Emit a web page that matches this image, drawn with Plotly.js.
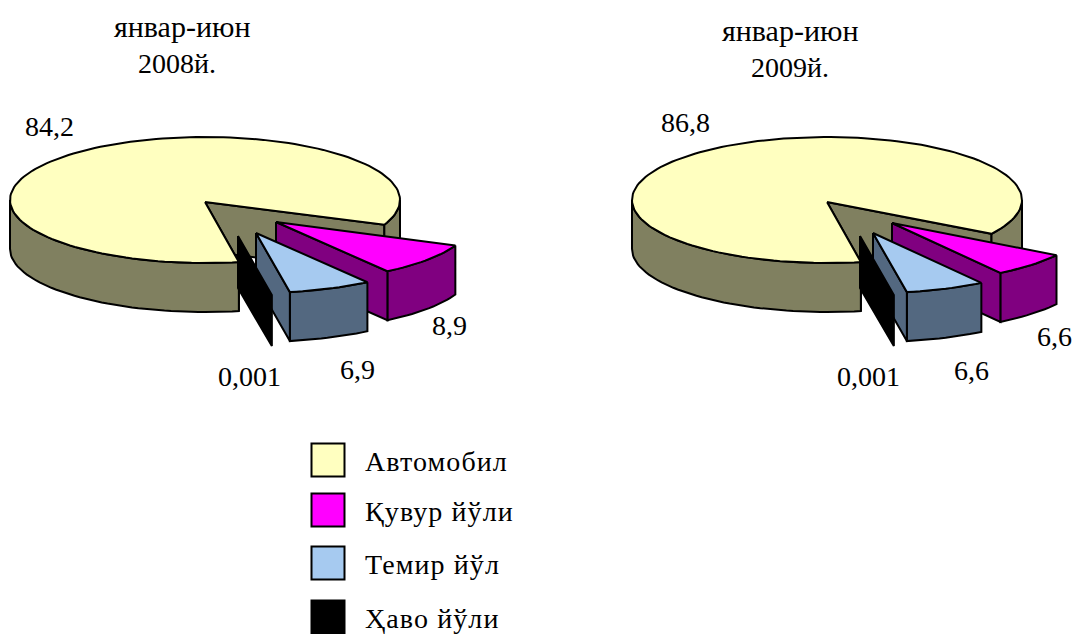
<!DOCTYPE html>
<html><head><meta charset="utf-8">
<script src="https://cdn.plot.ly/plotly-3.0.1.min.js"></script>
<style>html,body{margin:0;padding:0;background:#fff}#c{width:1075px;height:634px}
.textpoint text{letter-spacing:1.1px}</style></head>
<body><div id="c"></div>
<script>
const categories = ['Автомобил','Қувур йўли','Темир йўл','Ҳаво йўли'];
const values2008 = [84.2, 8.9, 6.9, 0.001];
const values2009 = [86.8, 6.6, 6.6, 0.001];
const labels2008 = ['84,2','8,9','6,9','0,001'];
const labels2009 = ['86,8','6,6','6,6','0,001'];
const periodTitle = 'январ-июн';
const yearTitles = ['2008й.','2009й.'];

const topColors = ['#FFFFC0','#FF00FF','#A6CAF0','#000000'];
const sideColors = ['#808060','#800080','#536880','#000000'];
const F = '"Liberation Serif","Times New Roman",serif';
const START = 80, D = 49, RX = 195, RY = 63, RYX = 60;
const traces = [];
const rad = a => a*Math.PI/180;
function arc(cx,cy,rx,ry,a0,a1,dy){
  const p=[]; const n=Math.max(2,Math.ceil(Math.abs(a1-a0)/2));
  for(let i=0;i<=n;i++){const a=rad(a0+(a1-a0)*i/n);p.push([cx+rx*Math.cos(a),cy+ry*Math.sin(a)+(dy||0)]);}
  return p;
}
function poly(pts,color){
  const x=pts.map(p=>p[0]),y=pts.map(p=>p[1]);
  x.push(x[0]);y.push(y[0]);
  traces.push({type:'scatter',mode:'lines',x,y,fill:'toself',fillcolor:color,
    line:{color:'#000',width:2},hoverinfo:'skip',showlegend:false});
}
function pie3d(cx,values,offsets){
  const cy=200, tip=[cx,202];
  const angs=[START]; values.forEach(v=>angs.push(angs[angs.length-1]+v*3.6));
  // large slice: cut faces first, then the outer wall in front of them
  const a0=angs[0],a1=angs[1];
  const pe1=arc(cx,cy,RX,RY,a1,a1)[0], pe0=arc(cx,cy,RX,RY,a0,a0)[0];
  poly([tip,pe1,[pe1[0],pe1[1]+D],[tip[0],tip[1]+D]],sideColors[0]);
  poly([tip,pe0,[pe0[0],pe0[1]+D],[tip[0],tip[1]+D]],sideColors[0]);
  poly(arc(cx,cy,RX,RY,a0,180).concat(arc(cx,cy,RX,RY,180,a0,D)),sideColors[0]);
  poly(arc(cx,cy,RX,RY,360,a1,0).concat(arc(cx,cy,RX,RY,a1,360,D)),sideColors[0]);
  poly([tip].concat(arc(cx,cy,RX,RY,a0,a1)),topColors[0]);
  // exploded slices
  for(let i=1;i<values.length;i++){
    const b0=angs[i]%360,b1=angs[i+1]%360, o=offsets[i-1];
    const tx=cx+o[0], ty=202+o[1];
    const c=[tx,ty];
    if(values[i]<0.1){
      const e=arc(tx,ty,RX*o[2],RYX*o[2],b1,b1)[0];
      poly([c,e,[e[0],e[1]+D+2],[tx,ty+D+3]],topColors[i]);
      continue;
    }
    poly(arc(tx,ty,RX,RYX,b0,b1).concat(arc(tx,ty,RX,RYX,b1,b0,D)),sideColors[i]);
    const e=arc(tx,ty,RX,RYX,b1,b1)[0];
    poly([c,e,[e[0],e[1]+D],[tx,ty+D]],sideColors[i]);
    poly([c].concat(arc(tx,ty,RX,RYX,b0,b1)),topColors[i]);
  }
}
pie3d(205,values2008,[[71,20],[51,31],[33,34,1]]);
pie3d(827,values2009,[[65,21],[46,31],[33,34,1]]);

// legend
const legY=[460,510,563,617];
traces.push({type:'scatter',mode:'markers',x:categories.map(()=>328),y:legY,
  marker:{symbol:'square',size:33,color:topColors,line:{color:'#000',width:2}},hoverinfo:'skip',showlegend:false});
traces.push({type:'scatter',mode:'text',x:categories.map(()=>365),y:legY.map(v=>v+4),text:categories,
  textposition:'middle right',textfont:{family:F,size:28,color:'#000'},hoverinfo:'skip',showlegend:false});

const ann=(x,y,t,s)=>({x,y,text:t,showarrow:false,xref:'x',yref:'y',xanchor:'center',yanchor:'middle',font:{family:F,size:s||28,color:'#000'}});
const annotations=[
  ann(181.5,26,periodTitle,30),ann(176.5,63,yearTitles[0]),
  ann(790,30,periodTitle,30),ann(790,67,yearTitles[1]),
  ann(49,126,labels2008[0]),ann(449,325,labels2008[1]),ann(357,369,labels2008[2]),ann(249,376,labels2008[3]),
  ann(685,122,labels2009[0]),ann(1054,336,labels2009[1]),ann(971,370,labels2009[2]),ann(868,376,labels2009[3])
];
Plotly.newPlot('c',traces,{
  width:1075,height:634,margin:{l:0,r:0,t:0,b:0},paper_bgcolor:'#fff',plot_bgcolor:'#fff',
  xaxis:{range:[0,1075],visible:false,fixedrange:true},
  yaxis:{range:[634,0],visible:false,fixedrange:true},
  annotations,showlegend:false
},{staticPlot:true,displayModeBar:false});
</script></body></html>
